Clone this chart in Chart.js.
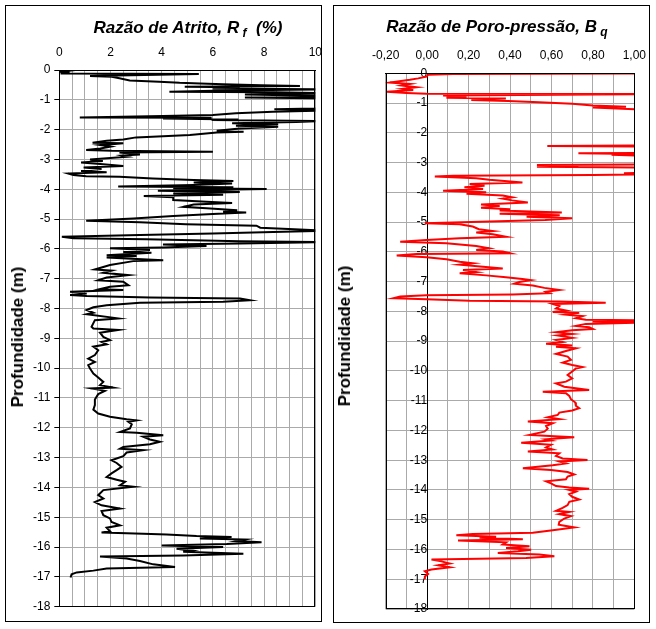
<!DOCTYPE html>
<html>
<head>
<meta charset="utf-8">
<script src="https://cdn.jsdelivr.net/npm/chart.js@4/dist/chart.umd.min.js"></script>
<style>
  html, body { margin: 0; padding: 0; background: #fff; }
  body { width: 656px; height: 629px; position: relative; overflow: hidden; font-family: 'Liberation Sans', Arial, sans-serif; }
  .box { position: absolute; border: 1px solid #000; box-sizing: border-box; }
  canvas { position: absolute; left: 0; top: 0; }
  .title { position: absolute; text-align: center; font: italic bold 17px 'Liberation Sans', Arial, sans-serif; line-height: 20px; white-space: nowrap; color: #000; }
  .title sub { font-size: 12px; vertical-align: -4px; line-height: 0; }
  .ytitle { position: absolute; font: bold 17px 'Liberation Sans', Arial, sans-serif; white-space: nowrap; transform: translate(-50%, -50%) rotate(-90deg); color: #000; }
</style>
</head>
<body>
<div class="box" style="left:5px; top:5px; width:317px; height:617px;"></div>
<div class="box" style="left:333px; top:5px; width:317px; height:618px;"></div>
<canvas id="c1" width="656" height="629"></canvas>
<canvas id="c2" width="656" height="629"></canvas>
<div class="title" style="left:59px; width:258px; top:18px;">Razão de Atrito, R<sub>&nbsp;f</sub>&nbsp;&nbsp;(%)</div>
<div class="title" style="left:347px; width:300px; top:17px;">Razão de Poro-pressão, B<sub>&nbsp;q</sub></div>
<div class="ytitle" style="left:18px; top:337px;">Profundidade (m)</div>
<div class="ytitle" style="left:345px; top:336px;">Profundidade (m)</div>
<script>
// ---------- data (depth in m, positive downward) ----------
const rfDepth = [0.00,0.03,0.06,0.09,0.12,0.13,0.20,0.23,0.28,0.35,0.39,0.43,0.45,0.48,0.51,0.54,0.56,0.58,0.62,0.65,0.69,0.73,0.75,0.78,0.82,0.87,0.92,0.95,1.05,1.20,1.29,1.32,1.36,1.40,1.45,1.51,1.54,1.59,1.60,1.63,1.66,1.68,1.71,1.74,1.79,1.82,1.87,1.90,1.96,2.04,2.07,2.10,2.18,2.26,2.33,2.37,2.44,2.46,2.52,2.57,2.63,2.68,2.71,2.74,2.77,2.83,2.87,2.91,3.00,3.05,3.10,3.15,3.22,3.27,3.32,3.39,3.43,3.47,3.52,3.56,3.58,3.64,3.69,3.72,3.77,3.81,3.86,3.91,3.93,3.97,3.99,4.05,4.09,4.14,4.18,4.23,4.27,4.36,4.42,4.46,4.51,4.59,4.64,4.70,4.75,4.78,4.83,4.90,4.98,5.06,5.11,5.17,5.22,5.29,5.35,5.39,5.43,5.48,5.53,5.59,5.64,5.68,5.74,5.77,5.82,5.85,5.90,5.95,5.98,6.04,6.10,6.13,6.21,6.24,6.29,6.32,6.38,6.41,6.54,6.69,6.73,6.80,6.88,6.96,7.05,7.10,7.22,7.27,7.35,7.38,7.44,7.50,7.55,7.58,7.63,7.66,7.72,7.77,7.81,7.89,7.96,8.05,8.14,8.19,8.33,8.39,8.61,8.67,8.72,8.81,8.95,9.06,9.12,9.20,9.28,9.40,9.56,9.68,9.79,9.90,10.01,10.18,10.31,10.46,10.57,10.65,10.68,10.76,10.87,11.05,11.24,11.39,11.52,11.63,11.71,11.75,11.80,11.88,12.02,12.14,12.17,12.25,12.30,12.39,12.47,12.55,12.64,12.70,12.75,12.83,12.95,13.09,13.18,13.31,13.42,13.53,13.65,13.74,13.81,13.93,13.98,14.09,14.26,14.37,14.49,14.60,14.71,14.79,14.93,15.04,15.16,15.27,15.35,15.47,15.51,15.55,15.58,15.63,15.66,15.71,15.75,15.80,15.84,15.90,15.95,16.00,16.06,16.12,16.16,16.22,16.28,16.32,16.38,16.47,16.58,16.67,16.72,16.79,16.85,16.91,17.02];
const rfValue = [0.00,0.35,0.05,0.40,0.05,5.45,1.20,2.05,2.35,2.75,3.90,4.70,5.50,6.40,7.90,9.40,4.90,7.05,6.00,10.3,6.50,4.30,8.40,10.4,7.25,10.5,7.25,10.6,12.0,11.5,10.0,8.40,10.2,8.35,6.90,6.00,4.05,0.80,5.95,4.05,7.00,5.95,10.3,9.25,6.75,8.55,6.90,8.55,7.05,6.15,7.20,6.15,5.10,3.00,2.50,1.85,1.30,2.50,1.60,2.00,1.60,1.05,2.05,6.00,2.35,3.15,2.45,2.65,1.20,1.70,0.85,1.60,2.50,0.95,1.65,0.85,1.85,0.35,0.55,1.05,2.35,3.65,5.25,6.80,5.25,6.75,5.25,2.30,6.80,4.45,8.10,3.85,7.05,4.45,6.40,3.30,4.45,4.45,5.75,6.75,5.25,4.85,5.75,6.95,6.40,7.30,6.00,4.45,2.90,1.05,3.15,4.95,7.70,7.85,9.40,10.4,8.35,6.00,3.15,0.10,0.55,3.40,7.05,10.3,7.05,4.05,5.75,4.05,1.98,3.54,2.50,3.60,1.85,3.02,1.85,2.63,4.06,2.89,1.98,1.39,2.04,1.72,2.70,1.85,1.52,2.50,2.70,1.98,1.59,2.50,0.42,1.07,0.42,1.07,3.54,7.06,7.45,6.40,3.15,1.85,1.33,1.07,1.33,1.07,2.30,1.39,1.26,1.33,2.30,1.59,1.72,1.98,1.65,1.85,1.33,1.52,1.39,1.13,1.39,1.13,1.20,1.33,1.52,1.72,1.59,2.10,1.26,1.78,1.52,1.39,1.39,1.33,1.52,1.98,2.63,3.02,2.70,2.83,2.76,2.37,3.02,4.06,3.28,3.54,3.93,3.54,2.50,2.37,3.28,2.63,2.50,2.04,2.24,2.43,2.24,2.04,1.85,2.24,2.57,2.37,2.89,1.72,1.52,1.72,1.39,1.65,2.37,1.65,1.72,1.98,2.04,2.37,1.85,1.98,1.65,3.28,4.19,5.36,6.73,5.49,7.25,6.93,7.90,6.54,4.00,6.40,4.58,5.17,4.84,7.19,4.84,1.59,2.63,3.15,3.67,4.52,1.85,1.33,0.68,0.48,0.44];

const bqDepth = [0.00,0.005,0.02,0.045,0.11,0.17,0.22,0.31,0.36,0.41,0.47,0.52,0.56,0.62,0.66,0.69,0.70,0.75,0.78,0.82,0.85,0.90,0.93,0.97,1.02,1.08,1.12,1.15,1.21,1.25,1.80,2.42,2.44,2.46,2.67,2.69,2.72,2.74,2.78,3.06,3.08,3.11,3.14,3.17,3.33,3.36,3.39,3.42,3.44,3.47,3.53,3.58,3.67,3.72,3.78,3.83,3.89,3.95,4.00,4.05,4.11,4.17,4.21,4.27,4.34,4.41,4.46,4.52,4.57,4.61,4.68,4.72,4.77,4.82,4.87,4.93,4.98,5.04,5.07,5.15,5.24,5.30,5.35,5.41,5.49,5.54,5.60,5.66,5.71,5.80,5.88,5.94,5.99,6.05,6.07,6.12,6.18,6.25,6.33,6.38,6.43,6.50,6.56,6.61,6.68,6.72,6.79,6.85,6.91,6.95,7.01,7.07,7.13,7.21,7.28,7.34,7.39,7.43,7.46,7.50,7.56,7.59,7.64,7.67,7.71,7.75,7.82,7.90,7.97,8.02,8.05,8.11,8.16,8.23,8.28,8.30,8.34,8.38,8.42,8.49,8.53,8.59,8.63,8.70,8.76,8.81,8.89,8.96,9.03,9.09,9.15,9.19,9.24,9.33,9.43,9.52,9.63,9.72,9.80,9.87,9.92,10.02,10.14,10.25,10.36,10.42,10.53,10.64,10.70,10.75,10.84,10.95,11.06,11.17,11.25,11.33,11.40,11.48,11.56,11.62,11.70,11.76,11.85,11.94,12.04,12.15,12.19,12.23,12.30,12.34,12.41,12.48,12.57,12.64,12.71,12.77,12.86,12.94,12.99,13.04,13.11,13.17,13.27,13.33,13.40,13.48,13.55,13.64,13.71,13.78,13.87,13.92,13.96,14.00,14.06,14.14,14.23,14.32,14.40,14.51,14.60,14.70,14.74,14.81,14.88,14.96,15.07,15.17,15.26,15.35,15.44,15.48,15.52,15.57,15.61,15.66,15.70,15.76,15.83,15.89,15.95,16.01,16.06,16.12,16.17,16.23,16.29,16.34,16.40,16.47,16.53,16.60,16.67,16.73,16.82,16.91,17.00];
const bqValue = [0.005,1.05,0.125,0.005,-0.003,-0.043,-0.083,-0.18,-0.083,-0.123,-0.051,-0.115,-0.067,-0.195,-0.10,-0.003,1.05,0.077,0.19,0.093,0.38,0.213,0.39,0.54,0.70,0.80,0.96,0.80,1.00,1.12,1.30,1.12,0.58,1.12,1.12,0.73,1.12,0.89,1.12,1.12,0.53,0.73,0.53,1.12,1.12,0.95,1.12,0.80,0.125,0.037,0.237,0.30,0.46,0.205,0.277,0.18,0.27,0.077,0.285,0.19,0.365,0.41,0.365,0.41,0.486,0.26,0.35,0.26,0.40,0.35,0.65,0.35,0.64,0.48,0.70,0.57,0.30,-0.011,0.157,0.22,0.25,0.317,0.237,0.317,0.38,0.157,-0.003,-0.13,0.093,0.237,0.30,0.237,0.365,0.40,-0.051,-0.147,-0.003,0.093,0.157,0.22,0.157,0.27,0.365,0.173,0.237,0.157,0.285,0.38,0.46,0.50,0.445,0.42,0.51,0.566,0.638,0.574,0.59,0.413,-0.003,-0.13,-0.163,-0.003,0.205,0.638,0.862,0.606,0.638,0.622,0.67,0.606,0.734,0.67,0.75,0.718,0.766,1.04,0.80,1.02,0.766,0.718,0.782,0.80,0.70,0.622,0.70,0.63,0.70,0.622,0.654,0.574,0.70,0.622,0.718,0.67,0.622,0.678,0.694,0.654,0.70,0.75,0.718,0.70,0.678,0.70,0.67,0.622,0.662,0.782,0.558,0.67,0.686,0.694,0.715,0.718,0.734,0.70,0.638,0.63,0.582,0.638,0.486,0.606,0.574,0.582,0.566,0.494,0.59,0.71,0.574,0.598,0.454,0.598,0.574,0.606,0.486,0.638,0.622,0.654,0.774,0.638,0.67,0.606,0.462,0.598,0.678,0.71,0.678,0.67,0.574,0.598,0.622,0.686,0.782,0.686,0.718,0.686,0.70,0.734,0.686,0.678,0.654,0.622,0.686,0.638,0.694,0.662,0.638,0.635,0.71,0.606,0.51,0.221,0.141,0.333,0.253,0.462,0.149,0.381,0.365,0.494,0.381,0.502,0.438,0.341,0.542,0.614,0.478,0.021,0.069,0.109,0.053,0.109,0.021,-0.011,0.005,-0.011,-0.011];

const depthTicks = { min: -18, max: 0, step: 1 };
const rfAxis = { min: 0, max: 10, gridStep: 0.5, labelStep: 2 };
const bqAxis = { min: -0.2, max: 1.0, gridStep: 0.1 };

// ---------- common ----------
Chart.defaults.font.family = "'Liberation Sans', Arial, sans-serif";
Chart.defaults.font.size = 12;
Chart.defaults.color = '#000';
const GRID = '#aaaaaa';

const plotBorder = {
  id: 'plotBorder',
  afterDraw(chart) {
    const a = chart.chartArea, ctx = chart.ctx;
    ctx.save();
    ctx.strokeStyle = '#000';
    ctx.lineWidth = 1;
    ctx.strokeRect(Math.round(a.left) + 0.5, Math.round(a.top) + 0.5,
                   Math.round(a.right - a.left) - 1, Math.round(a.bottom - a.top) - 1);
    ctx.restore();
  }
};

function toPoints(depth, value) {
  return depth.map((d, i) => ({ x: value[i], y: -d }));
}

// ---------- left chart: Rf ----------
new Chart(document.getElementById('c1'), {
  type: 'scatter',
  data: { datasets: [{
    data: toPoints(rfDepth, rfValue),
    showLine: true, borderColor: '#000', borderWidth: 2,
    pointRadius: 0, pointHoverRadius: 0, tension: 0, clip: 0
  }]},
  options: {
    responsive: false, animation: false, devicePixelRatio: 1,
    layout: { padding: { left: 0, top: 0, right: 340.7, bottom: 22.3 } },
    plugins: { legend: { display: false }, tooltip: { enabled: false }, title: { display: false } },
    scales: {
      x: {
        type: 'linear', position: 'top', min: rfAxis.min, max: rfAxis.max,
        afterFit(s) { s.height = 70; },
        grid: { color: GRID, drawTicks: false },
        border: { color: '#000', width: 1 },
        ticks: {
          stepSize: rfAxis.gridStep, autoSkip: false, maxRotation: 0, padding: 10,
          callback: (v) => (Math.abs(v % rfAxis.labelStep) < 1e-9 ? String(v) : '')
        }
      },
      y: {
        type: 'linear', position: 'left', min: depthTicks.min, max: depthTicks.max,
        afterFit(s) { s.width = 59.3; },
        grid: { color: GRID, drawTicks: true, tickLength: 5, tickColor: '#000' },
        border: { color: '#000', width: 1 },
        ticks: { stepSize: depthTicks.step, autoSkip: false, padding: 4,
          callback: (v) => String(Math.round(v)) }
      }
    }
  },
  plugins: [plotBorder]
});

// ---------- right chart: Bq ----------
new Chart(document.getElementById('c2'), {
  type: 'scatter',
  data: { datasets: [{
    data: toPoints(bqDepth, bqValue),
    showLine: true, borderColor: '#ff0000', borderWidth: 2,
    pointRadius: 0, pointHoverRadius: 0, tension: 0, clip: 0
  }]},
  options: {
    responsive: false, animation: false, devicePixelRatio: 1,
    layout: { padding: { left: 385.7, top: 0, right: 20.7, bottom: 20 } },
    plugins: { legend: { display: false }, tooltip: { enabled: false }, title: { display: false } },
    scales: {
      x: {
        type: 'linear', position: 'top', min: bqAxis.min, max: bqAxis.max,
        afterFit(s) { s.height = 73.3; },
        grid: { color: GRID, drawTicks: false },
        border: { color: '#000', width: 1 },
        ticks: {
          stepSize: bqAxis.gridStep, autoSkip: false, maxRotation: 0, padding: 10, maxTicksLimit: 100,
          callback: (v) => {
            const k = Math.round(v * 10);
            return k % 2 === 0 ? (k / 10).toFixed(2).replace('.', ',') : '';
          }
        }
      },
      y: {
        type: 'linear', position: { x: 0 }, min: depthTicks.min, max: depthTicks.max,
        grid: { color: GRID, drawTicks: false },
        border: { color: '#000', width: 1 },
        ticks: { stepSize: depthTicks.step, autoSkip: false, padding: 9,
          callback: (v) => String(Math.round(v)) }
      }
    }
  },
  plugins: [plotBorder]
});
</script>
</body>
</html>
